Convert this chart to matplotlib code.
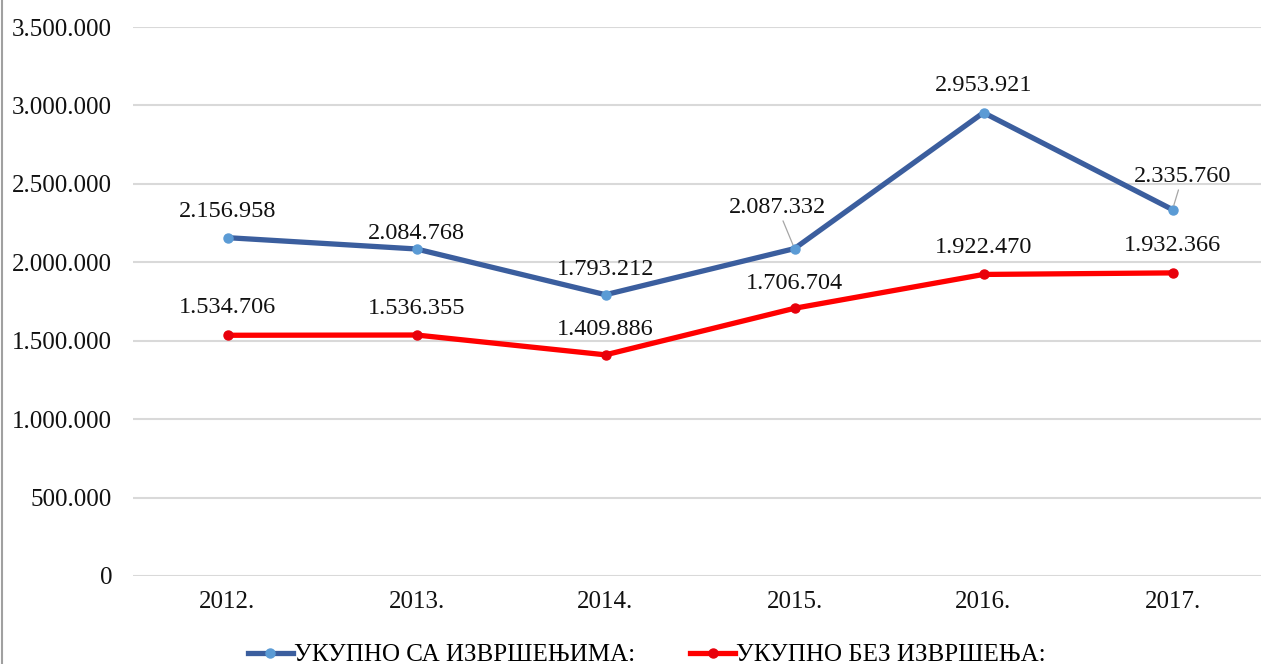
import matplotlib.pyplot as plt
from matplotlib.lines import Line2D
from matplotlib.ticker import FuncFormatter

plt.rcParams["font.family"] = ["Liberation Serif", "DejaVu Serif"]

# Подаци са графикона
YEARS = ["2012.", "2013.", "2014.", "2015.", "2016.", "2017."]
WITH_EXEC = [2156958, 2084768, 1793212, 2087332, 2953921, 2335760]
WITHOUT_EXEC = [1534706, 1536355, 1409886, 1706704, 1922470, 1932366]
LABEL_WITH = "УКУПНО СА ИЗВРШЕЊИМА:"
LABEL_WITHOUT = "УКУПНО БЕЗ ИЗВРШЕЊА:"

BLUE_LINE = "#3B5E9E"
BLUE_MARK = "#5B9BD5"
RED_LINE = "#FF0000"
RED_MARK = "#E8000B"
GRID_COLOR = "#D9D9D9"

# помаци натписа у пикселима (dx, dy) у односу на тачку
OFFSETS_WITH = [(0, 26), (0, 15), (0, 25), (-17, 41), (0, 27), (10, 33)]
OFFSETS_WITHOUT = [(0, 28), (0, 27), (0, 25), (0, 25), (0, 27), (0, 27)]
LEADER_WITH = [False, False, False, True, False, True]


def fmt_dots(v, _pos=None):
    return f"{int(round(v)):,}".replace(",", ".")


fig = plt.figure(figsize=(12.61, 6.64), dpi=100)
ax = fig.add_axes([133 / 1261, 1 - 576 / 664, 1134 / 1261, 549 / 664])

x = list(range(len(YEARS)))

ax.plot(x, WITH_EXEC, color=BLUE_LINE, lw=3.8, marker="o", markersize=6.5,
        markerfacecolor=BLUE_MARK, markeredgecolor=BLUE_MARK, zorder=3,
        solid_joinstyle="miter", label=LABEL_WITH)
ax.plot(x, WITHOUT_EXEC, color=RED_LINE, lw=3.8, marker="o", markersize=6.5,
        markerfacecolor=RED_MARK, markeredgecolor=RED_MARK, zorder=3,
        solid_joinstyle="miter", label=LABEL_WITHOUT)

for i, v in enumerate(WITH_EXEC):
    dx, dy = OFFSETS_WITH[i]
    arrow = None
    if LEADER_WITH[i]:
        arrow = dict(arrowstyle="-", color="#A6A6A6", lw=0.9, shrinkA=0, shrinkB=3)
    ax.annotate(fmt_dots(v), (i, v), xytext=(dx, dy), textcoords="offset pixels",
                ha="center", va="center", fontsize=17.5, color="#111111",
                arrowprops=arrow, zorder=4)

for i, v in enumerate(WITHOUT_EXEC):
    dx, dy = OFFSETS_WITHOUT[i]
    ax.annotate(fmt_dots(v), (i, v), xytext=(dx, dy), textcoords="offset pixels",
                ha="center", va="center", fontsize=17.5, color="#111111", zorder=4)

ax.set_xlim(-0.5, len(YEARS) - 0.5)
ax.set_ylim(0, 3500000)
ax.set_yticks(range(0, 3500001, 500000))
ax.yaxis.set_major_formatter(FuncFormatter(fmt_dots))
ax.set_xticks(x)
ax.set_xticklabels(YEARS)
ax.tick_params(axis="both", length=0, labelsize=18, labelcolor="#111111")
ax.tick_params(axis="y", pad=15)
ax.tick_params(axis="x", pad=11)
ax.grid(axis="y", color=GRID_COLOR, lw=1.5)
ax.set_axisbelow(True)
for s in ax.spines.values():
    s.set_visible(False)

fig.legend(loc="center", bbox_to_anchor=(647 / 1261, 1 - 655 / 664), ncol=2,
           frameon=False, fontsize=18, handlelength=1.8, handletextpad=0.05,
           columnspacing=2.2, borderaxespad=0)

# сива ивица лево
fig.add_artist(Line2D([0.0012, 0.0012], [0, 1], transform=fig.transFigure,
                      color="#A0A0A0", lw=1.5))

fig.savefig("out.png", dpi=100)
